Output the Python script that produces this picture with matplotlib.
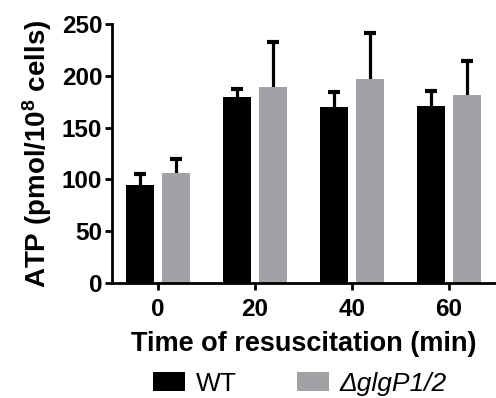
import matplotlib.pyplot as plt
import numpy as np

# data
times = ['0', '20', '40', '60']
wt_mean = [94.5, 179, 169.5, 171]
wt_err = [10.5, 8, 14.5, 14]
mut_mean = [106, 189.5, 196.5, 181.5]
mut_err = [14, 43, 45, 33]

plt.rcParams['font.family'] = ['Liberation Sans', 'DejaVu Sans']
plt.rcParams['mathtext.fontset'] = 'custom'
plt.rcParams['mathtext.rm'] = 'Liberation Sans'
plt.rcParams['mathtext.it'] = 'Liberation Sans:italic'
plt.rcParams['mathtext.bf'] = 'Liberation Sans:bold'

fig = plt.figure(figsize=(4.96, 3.98), dpi=100)
ax = fig.add_axes([0.226, 0.289, 0.774, 0.651])

x = np.arange(len(times))
w = 0.289
off = 0.186

ax.bar(x - off, wt_mean, w, color='black', label='WT', zorder=3)
ax.bar(x + off, mut_mean, w, color='#a2a2a6', label='ΔglgP1/2', zorder=3)
# upper error bars only
for xs, m, e in [(x - off, wt_mean, wt_err), (x + off, mut_mean, mut_err)]:
    eb = ax.errorbar(xs, m, yerr=[np.zeros(len(e)), e], fmt='none', ecolor='black',
                     elinewidth=2.3, capsize=4.5, capthick=3, zorder=2)
    eb[1][0].set_visible(False)   # lower cap

ax.set_xlim(-0.474, 3.485)
ax.set_ylim(0, 250)
ax.set_yticks([0, 50, 100, 150, 200, 250])
ax.set_xticks(x)
ax.set_xticklabels(times)

for s in ['top', 'right']:
    ax.spines[s].set_visible(False)
for s in ['left', 'bottom']:
    ax.spines[s].set_linewidth(2)
    ax.spines[s].set_zorder(4)

ax.tick_params(axis='y', width=2, length=5, labelsize=17.5, pad=2)
ax.tick_params(axis='x', width=2, length=5, labelsize=17.5, pad=6)
for lab in ax.get_xticklabels() + ax.get_yticklabels():
    lab.set_fontweight('bold')

ax.set_xlabel('Time of resuscitation (min)', fontsize=19.5, fontweight='bold', labelpad=7)
ax.set_ylabel('ATP (pmol/10$^{\\mathbf{8}}$ cells)', fontsize=20, fontweight='bold', labelpad=6)

leg = fig.legend(loc='center', bbox_to_anchor=(0.605, 0.036), ncol=2, frameon=False,
                 fontsize=19, handlelength=1.2, handleheight=0.76, columnspacing=2.3,
                 handletextpad=0.4)
leg.get_texts()[1].set_fontstyle('italic')

plt.savefig('out.png', dpi=100)
